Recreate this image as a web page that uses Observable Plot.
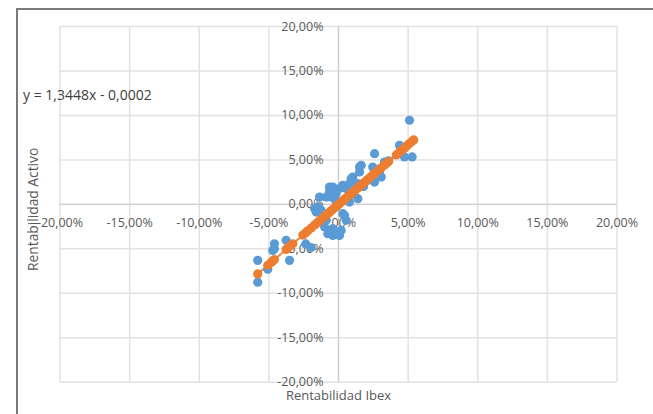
<!DOCTYPE html>
<html>
<head>
<meta charset="utf-8">
<script src="https://cdn.jsdelivr.net/npm/d3@7"></script>
<script src="https://cdn.jsdelivr.net/npm/@observablehq/plot@0.6"></script>
<style>
  html, body { margin: 0; padding: 0; background: #fff; }
  #wrap { position: relative; width: 653px; height: 414px; overflow: hidden; }
  #frame { position: absolute; left: 16px; top: 8px; right: -10px; bottom: -10px;
           border-left: 2px solid #7a7a7a; border-top: 2px solid #7a7a7a; pointer-events: none; }
  svg { font-family: "Open Sans", sans-serif; }
</style>
</head>
<body>
<div id="wrap"><div id="frame"></div></div>
<script>
// Tick values (percent) and their labels
const ticks = [-20, -15, -10, -5, 0, 5, 10, 15, 20];
const tickLabels = ["-20,00%", "-15,00%", "-10,00%", "-5,00%", "0,00%", "5,00%", "10,00%", "15,00%", "20,00%"];

// Observed returns (blue): Ibex return (x) vs asset return (y), in percent
const ibexReturn = [
  -5.80, -5.80, -5.08, -4.72, -4.60, -4.60, -3.76, -3.52, -2.35, -1.96,
  -1.72, -1.60, -1.49, -1.36, -1.24, -1.00, -0.88, -0.88, -0.77, -0.65,
  -0.65, -0.53, -0.41, -0.41, -0.41, -0.41, -0.20, -0.17, -0.05, 0.07,
  0.07, 0.19, 0.31, 0.31, 0.43, 0.55, 0.55, 0.79, 0.79, 0.91,
  1.00, 1.03, 1.39, 1.39, 1.51, 1.51, 1.63, 1.80, 2.10, 2.30,
  2.46, 2.59, 2.59, 2.95, 3.07, 3.30, 3.60, 4.38, 4.74, 5.10, 5.29
];
const assetReturn = [
  -6.30, -8.75, -7.30, -5.18, -4.43, -5.00, -4.05, -6.30, -4.45, -4.85,
  -0.48, -0.87, -0.30, 0.82, -0.68, -2.55, -1.80, 0.82, -3.30, 1.39,
  1.95, 0.82, 1.58, 1.95, -2.74, -3.49, 0.40, 1.20, -3.12, 1.77,
  -3.49, -2.93, -1.05, 2.14, -1.24, 1.77, -1.80, 2.33, 0.26, 2.89,
  1.20, 3.07, 2.33, 0.64, 3.64, 4.20, 4.39, 2.00, 2.70, 3.00,
  4.20, 2.51, 5.70, 3.64, 3.07, 4.76, 4.90, 6.64, 5.33, 9.46, 5.33
];

// Fitted values (orange), in percent
const fitX = [
  -5.80, -5.08, -4.84, -4.72, -4.60, -3.76, -3.64, -3.52, -3.28, -2.56,
  -2.35, -2.20, -1.96, -1.72, -1.60, -1.49, -1.36, -1.24, -1.00, -0.88,
  -0.77, -0.65, -0.53, -0.41, -0.20, -0.17, -0.05, 0.07, 0.19, 0.31,
  0.43, 0.55, 0.79, 0.91, 1.00, 1.03, 1.20, 1.39, 1.51, 1.63,
  1.80, 1.95, 2.10, 2.30, 2.46, 2.59, 2.80, 2.95, 3.07, 3.30,
  3.45, 3.60, 4.15, 4.38, 4.55, 4.74, 4.90, 5.10, 5.29, 5.40
];
const fitY = [
  -7.82, -6.85, -6.53, -6.37, -6.21, -5.08, -4.92, -4.75, -4.43, -3.46,
  -3.18, -2.98, -2.66, -2.33, -2.17, -2.02, -1.85, -1.69, -1.36, -1.20,
  -1.06, -0.89, -0.73, -0.57, -0.29, -0.25, -0.09, 0.07, 0.24, 0.40,
  0.56, 0.72, 1.04, 1.20, 1.32, 1.37, 1.59, 1.85, 2.01, 2.17,
  2.40, 2.60, 2.80, 3.07, 3.29, 3.46, 3.75, 3.95, 4.11, 4.42,
  4.62, 4.82, 5.56, 5.87, 6.10, 6.35, 6.57, 6.84, 7.09, 7.24
];

// Trendline end points (percent)
const trendX = [-5.80, 5.40];
const trendY = [-7.82, 7.24];

const equation = "y = 1,3448x - 0,0002";
const xTitle = "Rentabilidad Ibex";
const yTitle = "Rentabilidad Activo";

const observed = ibexReturn.map((x, i) => ({x, y: assetReturn[i]}));
const fitted = fitX.map((x, i) => ({x, y: fitY[i]}));
const trend = trendX.map((x, i) => ({x, y: trendY[i]}));
const tickData = ticks.map((v, i) => ({v, label: tickLabels[i]}));

const labelColor = "#595959";
const fs = 12.5;

const chart = Plot.plot({
  width: 653,
  height: 414,
  marginLeft: 59.5,
  marginRight: 36.5,
  marginTop: 26,
  marginBottom: 32.3,
  x: {domain: [-20, 20], axis: null},
  y: {domain: [-20, 20], axis: null},
  style: {background: "transparent", fontFamily: "Open Sans, sans-serif"},
  marks: [
    Plot.ruleX(ticks, {x: d => d, stroke: "#e2e2e2", strokeWidth: 1.5}),
    Plot.ruleY(ticks, {y: d => d, stroke: "#e2e2e2", strokeWidth: 1.5}),
    Plot.ruleX([0], {x: d => d, stroke: "#cfcfcf", strokeWidth: 1.3}),
    Plot.ruleY([0], {y: d => d, stroke: "#cfcfcf", strokeWidth: 1.3}),
    // x tick labels under the horizontal axis
    Plot.text(tickData, {x: "v", y: () => 0, text: "label", dy: 19, fill: labelColor, fontSize: fs, textAnchor: "middle"}),
    // y tick labels left of the vertical axis
    Plot.text(tickData, {x: () => 0, y: "v", text: "label", dx: -15, fill: labelColor, fontSize: fs, textAnchor: "end"}),
    Plot.line(trend, {x: "x", y: "y", stroke: "#ed7d31", strokeWidth: 2, strokeDasharray: "2,2"}),
    Plot.dot(observed, {x: "x", y: "y", r: 4.6, fill: "#5b9bd5", stroke: "none"}),
    Plot.dot(fitted, {x: "x", y: "y", r: 4.6, fill: "#ed7d31", stroke: "none"}),
    Plot.text([xTitle], {frameAnchor: "bottom", dy: 13.5, text: d => d, fill: labelColor, fontSize: 13, textAnchor: "middle", lineAnchor: "middle"}),
    Plot.text([yTitle], {frameAnchor: "left", dx: -26.5, dy: 5, rotate: -90, text: d => d, fill: labelColor, fontSize: 13.8, textAnchor: "middle", lineAnchor: "middle"}),
    Plot.text([equation], {frameAnchor: "top-left", dx: -37, dy: 69, text: d => d, fill: "#404040", fontSize: 14, textAnchor: "start", lineAnchor: "middle"})
  ]
});
document.getElementById("wrap").prepend(chart);
</script>
</body>
</html>
